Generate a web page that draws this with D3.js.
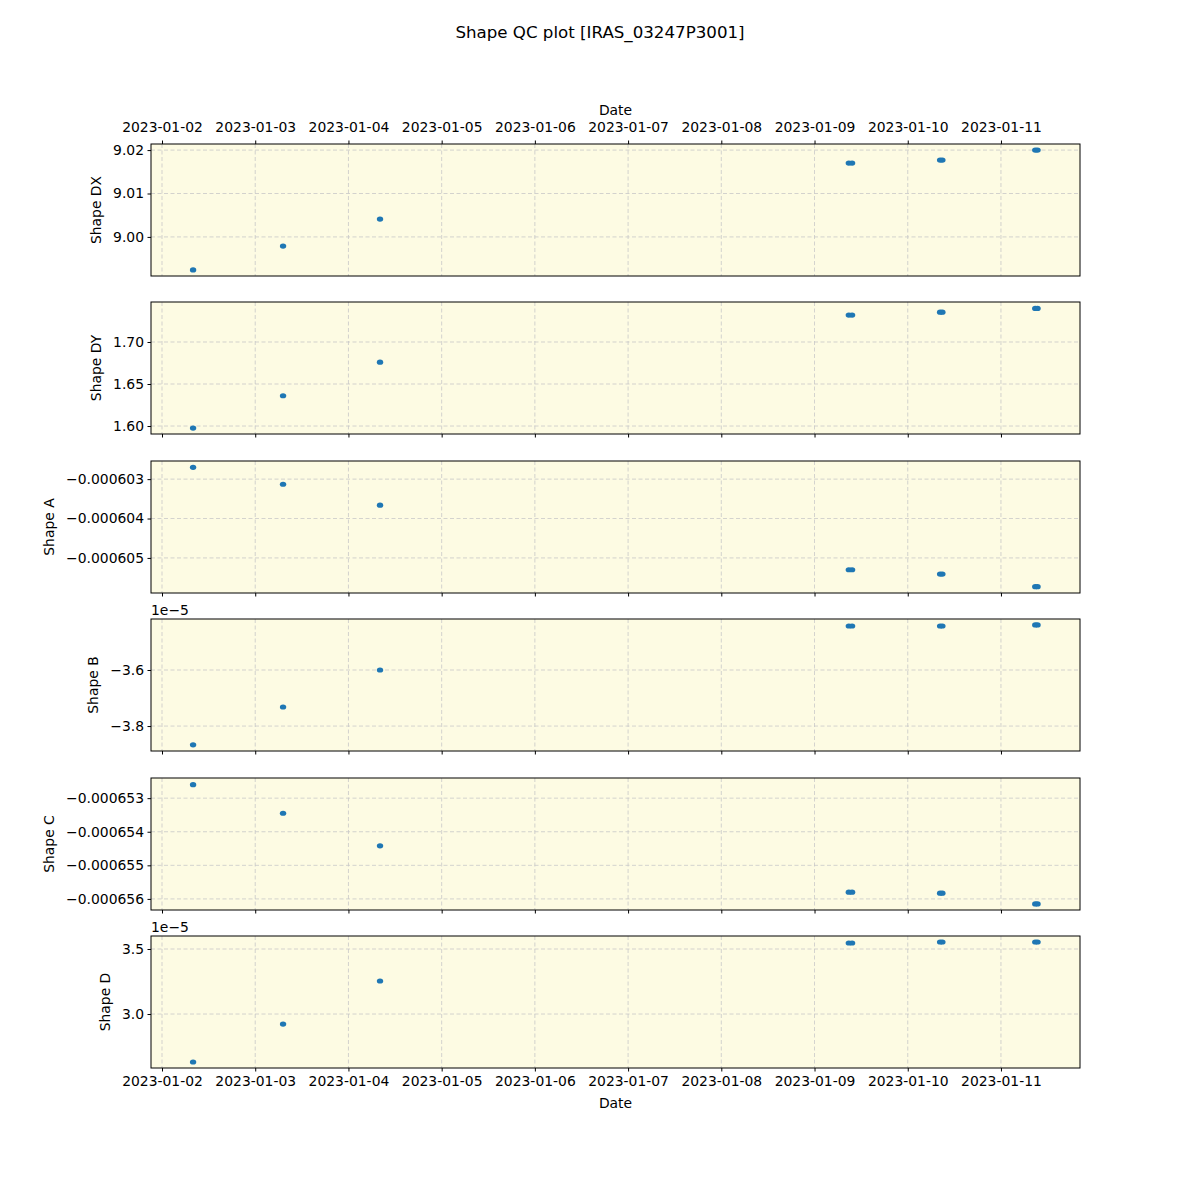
<!DOCTYPE html>
<html><head><meta charset="utf-8">
<script src="https://cdn.jsdelivr.net/npm/d3@7"></script>
<style>body{margin:0;background:#fff;font-family:"DejaVu Sans",sans-serif;}</style>
</head><body><div id="chart"></div>
<script>
const title = "Shape QC plot [IRAS_03247P3001]";
const dates = ["2023-01-02T08:00","2023-01-03T07:10","2023-01-04T08:08",
  "2023-01-09T08:50","2023-01-09T09:40","2023-01-10T08:20","2023-01-10T08:55",
  "2023-01-11T08:50","2023-01-11T09:25"];
const shapeDX = [8.9924, 8.9979, 9.0041, 9.0170, 9.0170, 9.0177, 9.0177, 9.0200, 9.0200];
const shapeDY = [1.5976, 1.6360, 1.6760, 1.7320, 1.7320, 1.7355, 1.7355, 1.7400, 1.7400];
const shapeA = [-0.0006027, -0.00060313, -0.00060366, -0.0006053, -0.0006053, -0.00060541, -0.00060541, -0.00060573, -0.00060573];
const shapeB = [-3.867e-5, -3.732e-5, -3.600e-5, -3.443e-5, -3.443e-5, -3.443e-5, -3.443e-5, -3.439e-5, -3.439e-5];
const shapeC = [-0.0006526, -0.00065345, -0.00065442, -0.0006558, -0.0006558, -0.00065583, -0.00065583, -0.00065615, -0.00065615];
const shapeD = [2.631e-5, 2.923e-5, 3.254e-5, 3.546e-5, 3.546e-5, 3.554e-5, 3.554e-5, 3.554e-5, 3.554e-5];
const xTickLabels = ["2023-01-02","2023-01-03","2023-01-04","2023-01-05","2023-01-06","2023-01-07","2023-01-08","2023-01-09","2023-01-10","2023-01-11"];

const panels = [
  {label:"Shape DX", values:shapeDX, domain:[8.9910, 9.0214], ticks:[9.00,9.01,9.02], fmt:d=>d.toFixed(2)},
  {label:"Shape DY", values:shapeDY, domain:[1.5905, 1.7476], ticks:[1.60,1.65,1.70], fmt:d=>d.toFixed(2)},
  {label:"Shape A", values:shapeA, domain:[-0.00060589, -0.00060254], ticks:[-0.000605,-0.000604,-0.000603], fmt:d=>"\u2212"+Math.abs(d).toFixed(6)},
  {label:"Shape B", values:shapeB, domain:[-3.889e-5, -3.418e-5], ticks:[-3.8e-5,-3.6e-5], fmt:d=>"\u2212"+Math.abs(d*1e5).toFixed(1), offset:"1e\u22125"},
  {label:"Shape C", values:shapeC, domain:[-0.00065633, -0.0006524], ticks:[-0.000656,-0.000655,-0.000654,-0.000653], fmt:d=>"\u2212"+Math.abs(d).toFixed(6)},
  {label:"Shape D", values:shapeD, domain:[2.585e-5, 3.6e-5], ticks:[3.0e-5,3.5e-5], fmt:d=>(d*1e5).toFixed(1), offset:"1e\u22125"}
];

const W=1200, H=1200;
const left=151, right=1080, pH=132;
const tops=[144,302,461,619,778,936];
const parse = d3.timeParse("%Y-%m-%dT%H:%M");
const parseDay = d3.timeParse("%Y-%m-%d");
const xDates = dates.map(parse);
const x = d3.scaleTime()
  .domain([parse("2023-01-01T21:10"), parse("2023-01-11T20:21")])
  .range([left, right]);
const xTicks = xTickLabels.map(parseDay);

const svg = d3.select("#chart").append("svg").attr("width",W).attr("height",H);
svg.append("text").attr("x",600).attr("y",38).attr("text-anchor","middle")
  .attr("font-size",16.67).attr("fill","#000").text(title);

const fs = 13.9;
panels.forEach((p,i)=>{
  const top=tops[i], bot=top+pH;
  const y = d3.scaleLinear().domain(p.domain).range([bot, top]);
  const g = svg.append("g");
  g.append("rect").attr("x",left).attr("y",top).attr("width",right-left).attr("height",pH)
    .attr("fill","#fdfbe3");
  g.selectAll(".vg").data(xTicks).join("line")
    .attr("x1",d=>x(d)).attr("x2",d=>x(d)).attr("y1",top).attr("y2",bot)
    .attr("stroke","#c8c8c8").attr("stroke-width",0.8).attr("stroke-dasharray","4,2.5");
  g.selectAll(".hg").data(p.ticks).join("line")
    .attr("x1",left).attr("x2",right).attr("y1",d=>y(d)).attr("y2",d=>y(d))
    .attr("stroke","#c8c8c8").attr("stroke-width",0.8).attr("stroke-dasharray","4,2.5");
  g.selectAll("ellipse").data(p.values).join("ellipse")
    .attr("cx",(d,j)=>x(xDates[j])).attr("cy",d=>y(d)).attr("rx",3.2).attr("ry",2.6)
    .attr("fill","#1f77b4");
  g.append("rect").attr("x",left).attr("y",top).attr("width",right-left).attr("height",pH)
    .attr("fill","none").attr("stroke","#000").attr("stroke-width",1);
  const ya = d3.axisLeft(y).tickValues(p.ticks).tickFormat(p.fmt).tickSize(3.5).tickPadding(3.5);
  const yg = svg.append("g").attr("transform",`translate(${left},0)`).call(ya);
  yg.select(".domain").remove();
  yg.selectAll("text").attr("font-size",fs).attr("font-family","DejaVu Sans").attr("fill","#000");
  yg.selectAll("line").attr("stroke","#000");
  let maxW=0;
  yg.selectAll("text").each(function(){maxW=Math.max(maxW,this.getBBox().width);});
  svg.append("text").attr("transform",`translate(${left-3.5-3.5-maxW-12},${top+pH/2}) rotate(-90)`)
    .attr("text-anchor","middle").attr("font-size",fs).attr("fill","#000").text(p.label);
  if(p.offset){
    svg.append("text").attr("x",left).attr("y",top-4).attr("font-size",fs).attr("fill","#000").text(p.offset);
  }
  if(i===0){
    const xa = d3.axisTop(x).tickValues(xTicks).tickFormat(d3.timeFormat("%Y-%m-%d")).tickSize(3.5).tickPadding(9);
    const xg = svg.append("g").attr("transform",`translate(0,${top})`).call(xa);
    xg.select(".domain").remove();
    xg.selectAll("text").attr("font-size",fs).attr("font-family","DejaVu Sans").attr("fill","#000");
    svg.append("text").attr("x",(left+right)/2).attr("y",top-29).attr("text-anchor","middle")
      .attr("font-size",fs).attr("fill","#000").text("Date");
  } else {
    const xa = d3.axisBottom(x).tickValues(xTicks).tickSize(3.5).tickPadding(5)
      .tickFormat(i===5 ? d3.timeFormat("%Y-%m-%d") : ()=>"");
    const xg = svg.append("g").attr("transform",`translate(0,${bot})`).call(xa);
    xg.select(".domain").remove();
    xg.selectAll("text").attr("font-size",fs).attr("font-family","DejaVu Sans").attr("fill","#000");
    if(i===5){
      svg.append("text").attr("x",(left+right)/2).attr("y",bot+40).attr("text-anchor","middle")
        .attr("font-size",fs).attr("fill","#000").text("Date");
    }
  }
});
</script></body></html>
